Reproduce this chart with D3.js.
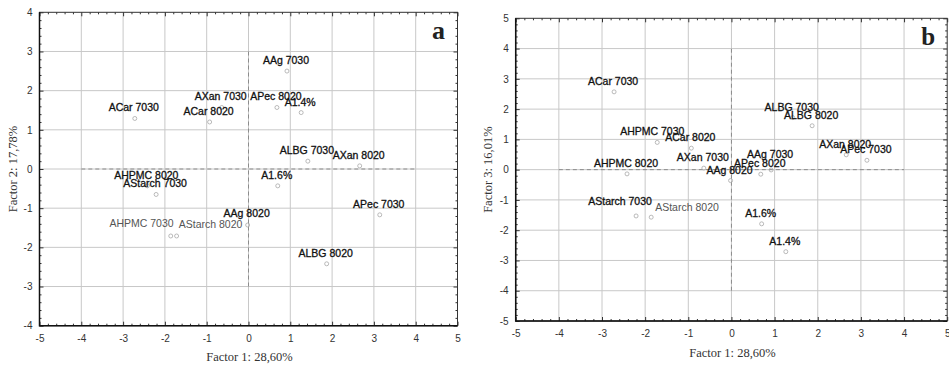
<!DOCTYPE html>
<html>
<head>
<meta charset="utf-8">
<script src="https://cdn.jsdelivr.net/npm/d3@7"></script>
<style>
  body { margin: 0; background: #fff; }
  svg { display: block; }
  .tick text { font-family: "Liberation Sans", Arial, sans-serif; font-size: 10px; fill: #333; }
  .ptlabel { font-family: "Liberation Sans", Arial, sans-serif; font-size: 10.5px; stroke-width: 0.3px; }
  .title { font-family: "Liberation Serif", "Times New Roman", serif; font-size: 12.5px; fill: #333; }
</style>
</head>
<body>
<div id="chart"></div>
<script>
// sample names, shared by both panels
var samples = ["ACar 7030", "ACar 8020", "AXan 7030", "APec 8020", "A1.4%", "AAg 7030",
               "ALBG 7030", "AXan 8020", "A1.6%", "AHPMC 8020", "AStarch 7030", "AAg 8020",
               "AHPMC 7030", "AStarch 8020", "APec 7030", "ALBG 8020"];

// factor scores
var factor1 = [-2.72, -0.93, -0.64, 0.68, 1.26, 0.92, 1.42, 2.66, 0.70, -2.42, -2.21, -0.02, -1.72, -1.86, 3.14, 1.87];
var factor2 = [1.29, 1.20, 1.57, 1.57, 1.44, 2.50, 0.20, 0.08, -0.43, -0.43, -0.65, -1.43, -1.71, -1.71, -1.17, -2.42];
var factor3 = [2.57, 0.71, 0.05, -0.15, -2.71, -0.01, 1.72, 0.49, -1.79, -0.14, -1.53, -0.36, 0.90, -1.57, 0.31, 1.45];

// tick labels
var xTicks = [-5, -4, -3, -2, -1, 0, 1, 2, 3, 4, 5];
var yTicksA = [-4, -3, -2, -1, 0, 1, 2, 3, 4];
var yTicksB = [-5, -4, -3, -2, -1, 0, 1, 2, 3, 4, 5];

// axis titles
var xTitle = "Factor 1: 28,60%";
var yTitleA = "Factor 2: 17,78%";
var yTitleB = "Factor 3: 16,01%";

var W = 949, H = 369;

var svg = d3.select("#chart").append("svg")
  .attr("width", W)
  .attr("height", H);

// label placement tweaks (anchor, dx, dy, colour) where the default doesn't fit
var tweaksA = {
  "AHPMC 7030": {anchor: "end", dx: -3, dy: -9, fill: "#555"},
  "AStarch 8020": {anchor: "start", dx: 8, dy: -8, fill: "#555"},
  "AAg 8020": {dy: -8}
};
var tweaksB = {
  "AStarch 7030": {dx: -16, dy: -11},
  "AStarch 8020": {anchor: "start", dx: 4, dy: -6, fill: "#555"},
  "AHPMC 7030": {dx: -5},
  "AAg 7030": {dy: -12}
};

var panels = [
  {left: 39.5, right: 457.5, top: 12.3, bottom: 325.7, ys: factor2, yDom: [-4, 4], yTicks: yTicksA,
   yTitle: yTitleA, yTitleX: 12.5, xTitleY: 361, letter: "a", letterSize: 26,
   dashY: [-3, 3], tweaks: tweaksA},
  {left: 515.7, right: 947.2, top: 18.3, bottom: 321, ys: factor3, yDom: [-5, 5], yTicks: yTicksB,
   yTitle: yTitleB, yTitleX: 488, xTitleY: 357, letter: "b", letterSize: 25,
   dashY: [-4, 4], tweaks: tweaksB}
];

// plain hyphen for negative tick labels, as in the original
var fmt = function(d) { return String(d); };

panels.forEach(function(p) {
  var x = d3.scaleLinear().domain([-5, 5]).range([p.left, p.right]);
  var y = d3.scaleLinear().domain(p.yDom).range([p.bottom, p.top]);
  var g = svg.append("g");

  // grid
  g.append("g").selectAll("line.vg")
    .data(xTicks.slice(1, -1))
    .enter().append("line")
    .attr("x1", d => x(d)).attr("x2", d => x(d))
    .attr("y1", p.top).attr("y2", p.bottom)
    .attr("stroke", "#c8c8c8").attr("stroke-width", 1);
  g.append("g").selectAll("line.hg")
    .data(p.yTicks.slice(1, -1))
    .enter().append("line")
    .attr("x1", p.left).attr("x2", p.right)
    .attr("y1", d => y(d)).attr("y2", d => y(d))
    .attr("stroke", "#c8c8c8").attr("stroke-width", 1);

  // dashed zero lines
  g.append("line")
    .attr("x1", x(-4)).attr("x2", x(4))
    .attr("y1", y(0)).attr("y2", y(0))
    .attr("stroke", "#8c8c8c").attr("stroke-dasharray", "4,3");
  g.append("line")
    .attr("x1", x(0)).attr("x2", x(0))
    .attr("y1", y(p.dashY[0])).attr("y2", y(p.dashY[1]))
    .attr("stroke", "#8c8c8c").attr("stroke-dasharray", "4,3");

  var minorX = d3.range(-5, 5.001, 0.2).filter(v => Math.abs(v - Math.round(v)) > 0.01);
  var minorY = d3.range(p.yDom[0], p.yDom[1] + 0.001, 0.2).filter(v => Math.abs(v - Math.round(v)) > 0.01);

  // axes: ticks pointing inward on all four sides
  g.append("g").attr("transform", "translate(0," + p.bottom + ")")
    .call(d3.axisBottom(x).tickValues(xTicks).tickFormat(fmt).tickSizeInner(-4).tickSizeOuter(0).tickPadding(9));
  g.append("g").attr("transform", "translate(0," + p.bottom + ")")
    .call(d3.axisBottom(x).tickValues(minorX).tickSizeInner(-2).tickSizeOuter(0).tickFormat(""));
  g.append("g").attr("transform", "translate(0," + p.top + ")")
    .call(d3.axisTop(x).tickValues(xTicks).tickSizeInner(-4).tickSizeOuter(0).tickFormat(""));
  g.append("g").attr("transform", "translate(0," + p.top + ")")
    .call(d3.axisTop(x).tickValues(minorX).tickSizeInner(-2).tickSizeOuter(0).tickFormat(""));
  g.append("g").attr("transform", "translate(" + p.left + ",0)")
    .call(d3.axisLeft(y).tickValues(p.yTicks).tickFormat(fmt).tickSizeInner(-4).tickSizeOuter(0).tickPadding(7));
  g.append("g").attr("transform", "translate(" + p.left + ",0)")
    .call(d3.axisLeft(y).tickValues(minorY).tickSizeInner(-2).tickSizeOuter(0).tickFormat(""));
  g.append("g").attr("transform", "translate(" + p.right + ",0)")
    .call(d3.axisRight(y).tickValues(p.yTicks).tickSizeInner(-4).tickSizeOuter(0).tickFormat(""));
  g.append("g").attr("transform", "translate(" + p.right + ",0)")
    .call(d3.axisRight(y).tickValues(minorY).tickSizeInner(-2).tickSizeOuter(0).tickFormat(""));

  g.selectAll(".domain").remove();
  g.selectAll(".tick line").attr("stroke", "#333");

  // frame
  g.append("rect")
    .attr("x", p.left).attr("y", p.top)
    .attr("width", p.right - p.left).attr("height", p.bottom - p.top)
    .attr("fill", "none").attr("stroke", "#333").attr("stroke-width", 1);
  g.append("path")
    .attr("d", "M" + p.left + "," + p.top + "V" + p.bottom + "H" + p.right)
    .attr("fill", "none").attr("stroke", "#111").attr("stroke-width", 1.5);

  // points
  var pts = samples.map(function(s, i) { return {name: s, fx: factor1[i], fy: p.ys[i]}; });
  g.append("g").selectAll("circle")
    .data(pts)
    .enter().append("circle")
    .attr("cx", d => x(d.fx))
    .attr("cy", d => y(d.fy))
    .attr("r", 2)
    .attr("fill", "none")
    .attr("stroke", "#a8a8a8")
    .attr("stroke-width", 0.8);

  // point labels
  g.append("g").selectAll("text")
    .data(pts)
    .enter().append("text")
    .attr("class", "ptlabel")
    .attr("x", function(d) { var t = p.tweaks[d.name] || {}; return x(d.fx) + (t.dx != null ? t.dx : -1); })
    .attr("y", function(d) { var t = p.tweaks[d.name] || {}; return y(d.fy) + (t.dy != null ? t.dy : -7); })
    .attr("text-anchor", function(d) { var t = p.tweaks[d.name] || {}; return t.anchor || "middle"; })
    .attr("fill", function(d) { var t = p.tweaks[d.name] || {}; return t.fill || "#111"; })
    .attr("stroke", function(d) { var t = p.tweaks[d.name] || {}; return t.fill ? "none" : "#111"; })
    .text(d => d.name);

  // axis titles
  g.append("text")
    .attr("class", "title")
    .attr("x", (p.left + p.right) / 2 + 1)
    .attr("y", p.xTitleY)
    .attr("text-anchor", "middle")
    .text(xTitle);
  g.append("text")
    .attr("class", "title")
    .attr("transform", "translate(" + p.yTitleX + "," + (p.top + p.bottom) / 2 + ") rotate(-90)")
    .attr("text-anchor", "middle")
    .attr("dy", "0.35em")
    .text(p.yTitle);

  // panel letter
  g.append("text")
    .attr("x", p.right - 19)
    .attr("y", p.top + 26.5)
    .attr("text-anchor", "middle")
    .style("font-family", "'Liberation Serif', 'Times New Roman', serif")
    .style("font-weight", "bold")
    .style("font-size", p.letterSize + "px")
    .attr("fill", "#222")
    .text(p.letter);
});
</script>
</body>
</html>
